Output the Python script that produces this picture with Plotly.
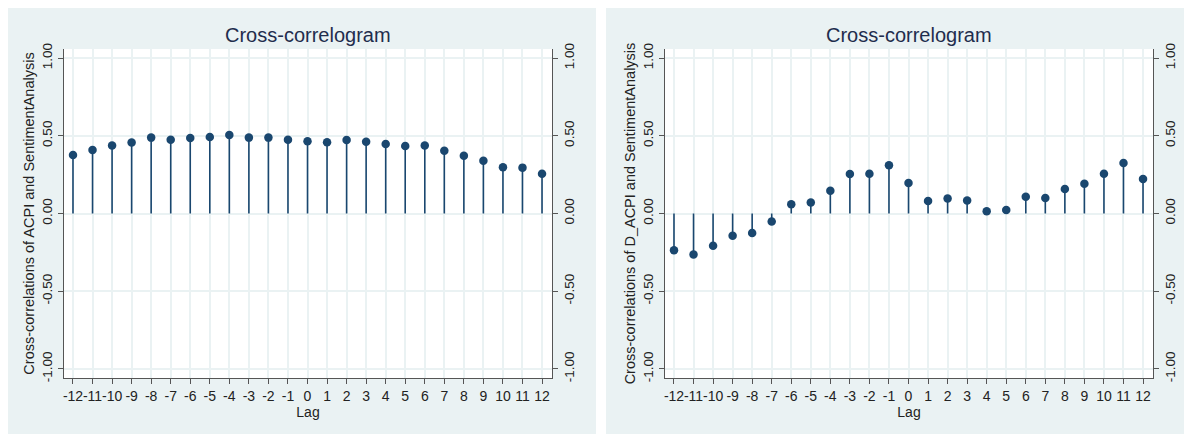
import plotly.graph_objects as go

lags = list(range(-12, 13))
ccf_acpi = [0.376, 0.409, 0.437, 0.456, 0.488, 0.475, 0.486, 0.492, 0.505, 0.488, 0.488, 0.475,
            0.465, 0.458, 0.473, 0.462, 0.447, 0.434, 0.437, 0.404, 0.372, 0.340, 0.297, 0.295, 0.256]
ccf_dacpi = [-0.237, -0.263, -0.207, -0.143, -0.126, -0.051, 0.060, 0.071, 0.146, 0.254, 0.256, 0.310,
             0.196, 0.080, 0.097, 0.084, 0.014, 0.022, 0.108, 0.099, 0.157, 0.191, 0.256, 0.325, 0.222]
yticks = [-1.0, -0.5, 0.0, 0.5, 1.0]
ytick_text = ["-1.00", "-0.50", "0.00", "0.50", "1.00"]
title_text = "Cross-correlogram"
xtitle = "Lag"
ytitles = ["Cross-correlations of ACPI and SentimentAnalysis",
           "Cross-correlations of D_ACPI and SentimentAnalysis"]

# page has an 8px body margin; figure is placed at (8, 8) of the window
OX, OY = 8, 8
W, H = 1192 - OX, 434 - OY
NAVY = "#1a476f"
BG = "#eaf2f3"
FONT = "Liberation Sans, Arial, sans-serif"

def px(x):
    return max(0.0, min(1.0, (x - OX) / W))

def py(y):
    return max(0.0, min(1.0, 1 - (y - OY) / H))

fig = go.Figure()

panels = [
    dict(vals=ccf_acpi, x0=64, x1=552, bx0=5, bx1=596, xa="x", ya="y", yr="y2"),
    dict(vals=ccf_dacpi, x0=665, x1=1153, bx0=606, bx1=1192, xa="x2", ya="y3", yr="y4"),
]

shapes = []
annotations = []
ytop, ybot = 49, 378
yr_rng = [-1.058, 1.058]

for i, p in enumerate(panels):
    shapes.append(dict(type="rect", xref="paper", yref="paper",
                       x0=px(p["bx0"]), x1=px(p["bx1"]), y0=0, y1=py(7),
                       fillcolor=BG, line=dict(width=0), layer="below"))
    shapes.append(dict(type="rect", xref="paper", yref="paper",
                       x0=px(p["x0"]), x1=px(p["x1"]), y0=py(ybot), y1=py(ytop),
                       fillcolor="white", line=dict(width=0), layer="below"))
    sx, sy = [], []
    for l, v in zip(lags, p["vals"]):
        sx += [l, l, None]
        sy += [0, v, None]
    fig.add_trace(go.Scatter(x=sx, y=sy, mode="lines", line=dict(color=NAVY, width=1.6),
                             xaxis=p["xa"], yaxis=p["ya"], showlegend=False, hoverinfo="skip"))
    fig.add_trace(go.Scatter(x=lags, y=p["vals"], mode="markers",
                             marker=dict(color=NAVY, size=8.5),
                             xaxis=p["xa"], yaxis=p["ya"], showlegend=False))
    fig.add_trace(go.Scatter(x=[0], y=[0], mode="markers", marker=dict(opacity=0),
                             xaxis=p["xa"], yaxis=p["yr"], showlegend=False, hoverinfo="skip"))
    annotations.append(dict(text=title_text, xref="paper", yref="paper",
                            x=px((p["x0"] + p["x1"]) / 2), y=py(35),
                            xanchor="center", yanchor="middle", showarrow=False,
                            font=dict(size=20, color="#1f2d4d", family=FONT)))

dom_y = [py(ybot), py(ytop)]

def xaxis_cfg(p, ya):
    return dict(domain=[px(p["x0"]), px(p["x1"])], range=[-12.46, 12.51], anchor=ya,
                tickmode="array", tickvals=lags, ticktext=[str(l) for l in lags],
                tickangle=0, automargin=False,
                ticks="outside", ticklen=5, tickcolor="#555555",
                showgrid=True, gridcolor=BG, gridwidth=1.5,
                showline=True, linecolor="#555555", linewidth=1.3,
                zeroline=False, tickfont=dict(size=14, color="#222222", family=FONT),
                title=dict(text=xtitle, font=dict(size=14, color="#222222", family=FONT), standoff=0),
                fixedrange=True)

def yaxis_cfg(xa, side, title=None, overlay=None):
    d = dict(domain=dom_y, range=yr_rng, tickmode="array", tickvals=yticks,
             ticktext=ytick_text, tickangle=-90, ticks="outside", ticklen=5,
             tickcolor="#555555", showline=True, linecolor="#555555", linewidth=1.3,
             zeroline=False, side=side, anchor=xa, automargin=False,
             tickfont=dict(size=13.5, color="#222222", family=FONT), fixedrange=True)
    if overlay:
        d.update(overlaying=overlay, showgrid=False)
    else:
        d.update(showgrid=True, gridcolor=BG, gridwidth=1.5)
    if title:
        d["title"] = dict(text=title, font=dict(size=14.5, color="#222222", family=FONT), standoff=2)
    return d

fig.update_layout(
    width=W, height=H,
    margin=dict(l=0, r=0, t=0, b=0, autoexpand=False),
    paper_bgcolor="white", plot_bgcolor="white",
    font=dict(family=FONT),
    xaxis=xaxis_cfg(panels[0], "y"),
    xaxis2=xaxis_cfg(panels[1], "y3"),
    yaxis=yaxis_cfg("x", "left", ytitles[0]),
    yaxis2=yaxis_cfg("x", "right", overlay="y"),
    yaxis3=yaxis_cfg("x2", "left", ytitles[1]),
    yaxis4=yaxis_cfg("x2", "right", overlay="y3"),
    shapes=shapes, annotations=annotations,
)

fig.write_html("out.html")
